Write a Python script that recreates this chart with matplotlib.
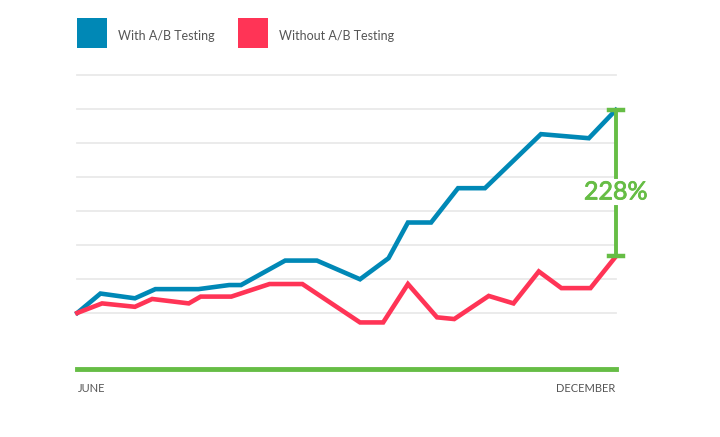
import numpy as np
import matplotlib
matplotlib.use("Agg")
import matplotlib.pyplot as plt
from matplotlib.patches import Rectangle

plt.rcParams['font.family'] = ['Lato', 'DejaVu Sans']

# data (x = position between June (0) and December (100))
with_x = [0, 4.3, 10.7, 14.5, 22.5, 28.2, 30.4, 38.6, 44.5, 52.5, 57.8, 61.4, 65.7, 70.7, 75.7, 86.1, 95.0, 100]
with_y = [0, 0.57, 0.43, 0.70, 0.70, 0.82, 0.82, 1.54, 1.54, 0.99, 1.61, 2.66, 2.66, 3.67, 3.67, 5.26, 5.14, 5.97]

without_x = [0, 4.6, 10.7, 13.9, 20.7, 22.9, 28.6, 35.7, 41.8, 52.5, 56.8, 61.4, 66.8, 70.0, 76.4, 81.0, 85.7, 89.9, 95.3, 100]
without_y = [0, 0.28, 0.18, 0.41, 0.28, 0.48, 0.48, 0.85, 0.85, -0.28, -0.28, 0.85, -0.13, -0.18, 0.50, 0.28, 1.22, 0.73, 0.73, 1.66]

series_names = ["With A/B Testing", "Without A/B Testing"]
x_labels = ["JUNE", "DECEMBER"]
lift_label = "228%"

blue = '#0088b6'
red = '#ff3456'
green = '#66bd45'
txt = '#555555'

W, H = 720, 437
fig = plt.figure(figsize=(W / 100, H / 100), dpi=100)
ax = fig.add_axes([77.3 / W, (H - 369) / H, (615.8 - 77.3) / W, (369 - 75) / H])
ax.set_xlim(0, 100)
ax.set_ylim(-1.65, 7.0)

for g in range(0, 8):
    ax.axhline(g, color='#e9e9e9', lw=1.3, zorder=0, clip_on=False)
ax.axhline(-1.65, color=green, lw=3.5, zorder=1, clip_on=False)

ax.plot(with_x, with_y, color=blue, lw=3.3, solid_joinstyle='miter', zorder=3, clip_on=False)
ax.plot(without_x, without_y, color=red, lw=3.3, solid_joinstyle='miter', zorder=3, clip_on=False)

for s in ax.spines.values():
    s.set_visible(False)
ax.set_xticks([])
ax.set_yticks([])

# bracket
top = with_y[-1]
bot = without_y[-1]
mid = 3.56
gap = 0.45
ax.plot([100, 100], [top, mid + gap], color=green, lw=2.8, clip_on=False, zorder=4)
ax.plot([100, 100], [bot, mid - gap], color=green, lw=2.8, clip_on=False, zorder=4)
for yy in (top, bot):
    ax.plot([98.7, 101.3], [yy, yy], color=green, lw=3.2, clip_on=False, zorder=4)
t = ax.text(100, mid, lift_label, color=green, fontsize=18, ha='center', va='center', zorder=5)
t.set_path_effects([])
import matplotlib.patheffects as pe
t.set_path_effects([pe.withStroke(linewidth=0.6, foreground=green)])

# x labels
fig.text(78 / W, 1 - 389 / H, x_labels[0], color=txt, fontsize=8, ha='left', va='center')
fig.text(615 / W, 1 - 389 / H, x_labels[1], color=txt, fontsize=8, ha='right', va='center')

# legend
for (x0, col, name) in [(77, blue, series_names[0]), (238, red, series_names[1])]:
    fig.add_artist(Rectangle((x0 / W, 1 - 48 / H), 30 / W, 30 / H, transform=fig.transFigure,
                             facecolor=col, edgecolor='none'))
    fig.text((x0 + 41) / W, 1 - 36 / H, name, color=txt, fontsize=9, ha='left', va='center')

fig.savefig('out.png', dpi=100, facecolor='white')
